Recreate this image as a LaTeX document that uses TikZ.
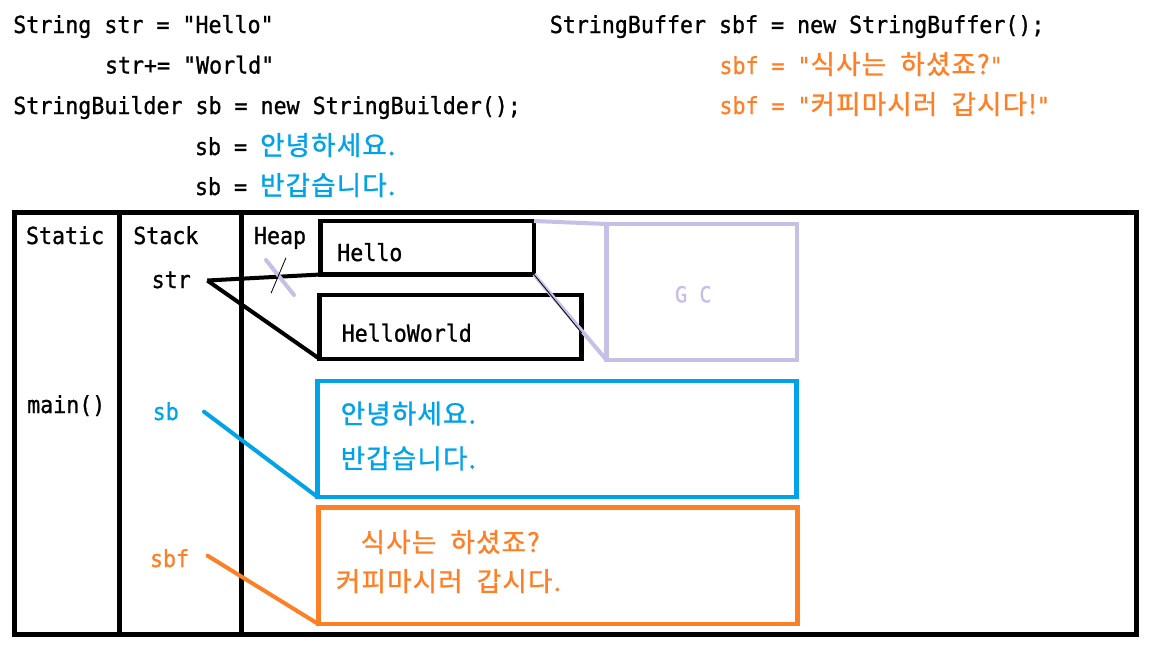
\documentclass[tikz,border=0pt]{standalone}
\usepackage{fontspec}
\newfontfamily\monof[FakeStretch=0.92,FakeBold=1,Ligatures=TeXOff]{DejaVu Sans Mono}
\newfontfamily\krf[WordSpace=2.0,FakeBold=1,LetterSpace=4.5]{Noto Sans CJK KR}
\newcommand\mfont{\monof\fontsize{23.5}{28}\selectfont}
\newcommand\K[1]{{\krf\fontsize{26.5}{30}\selectfont #1}}
\definecolor{pblue}{HTML}{00A2E8}
\definecolor{porange}{HTML}{FF7F27}
\definecolor{plav}{HTML}{C8BFE7}
\begin{document}
\begin{tikzpicture}[x=1pt,y=-1pt,
  txt/.style={inner sep=0pt, outer sep=0pt, anchor=base west, font=\mfont},
  membox/.style={draw, line width=4.5pt, inner sep=0pt, outer sep=0pt, anchor=north west, rectangle},
  link/.style={line width=4pt},
  thinlink/.style={line width=0.8pt},
  frameline/.style={line width=5pt}]
\useasboundingbox (0,0) rectangle (1152,648);
\fill[white] (0,0) rectangle (1152,648);

% code lines
\node[txt] (l1) at (13.3,33) {String str = "Hello"};
\node[txt] (l2) at (105,73.5) {str+= "World"};
\node[txt] (l3) at (13.3,114) {StringBuilder sb = new StringBuilder();};
\node[txt] (l4) at (195,155) {sb = \textcolor{pblue}{\K{안녕하세요.}}};
\node[txt] (l5) at (195,195) {sb = \textcolor{pblue}{\K{반갑습니다.}}};
\node[txt] (r1) at (549.8,33) {StringBuffer sbf = new StringBuffer();};
\node[txt, text=porange] (r2) at (719.5,74) {sbf = "\K{식사는 하셨죠?}"};
\node[txt, text=porange] (r3) at (719.5,114) {sbf = "\K{커피마시러 갑시다!}"};

% memory frame
\draw[frameline] (14.7,212.5) rectangle (1136.3,634.5);
\draw[frameline] (119.5,212.5) -- (119.5,634.5);
\draw[frameline] (241.7,212.5) -- (241.7,634.5);

% column labels
\node[txt] (static) at (26,244) {Static};
\node[txt] (stack) at (133.3,244) {Stack};
\node[txt] (heap) at (254,244) {Heap};
\node[txt] (main) at (27.2,413) {main()};
\node[txt] (strv) at (151.7,288) {str};
\node[txt, text=pblue] (sbv) at (152.7,420) {sb};
\node[txt, text=porange] (sbfv) at (150,567) {sbf};

% connector start points
\coordinate (strp) at (207.3,280.5);
\coordinate (sbp) at (204,411.7);
\coordinate (sbfp) at (207.6,555.7);
\coordinate (hwe) at (581.7,333);
\coordinate (c1) at (266,260);
\coordinate (c2) at (294,295);
\coordinate (c3) at (286,257.7);
\coordinate (c4) at (271,293.3);

% heap boxes
\node[membox, minimum width=213.5pt, minimum height=53.5pt] (hello) at (320.5,221) {};
\node[membox, minimum width=262.2pt, minimum height=63.8pt] (hw) at (319.5,295) {};
\node[membox, draw=plav, minimum width=190.5pt, minimum height=136pt] (gc) at (606.5,224) {};
\node[membox, draw=pblue, minimum width=479pt, minimum height=116pt] (blue) at (317.5,381) {};
\node[membox, draw=porange, minimum width=479.2pt, minimum height=116.5pt] (orange) at (318.3,507.5) {};

% connectors
\draw[link] (strp) -- (hello.south west);
\draw[link] (strp) -- (hw.south west);
\draw[link, pblue, line cap=round] (sbp) -- (blue.south west);
\draw[link, porange, line cap=round] (sbfp) -- (orange.south west);
\draw[link, plav] (hello.north east) -- (gc.north west);
\draw[link, plav] (hello.south east) -- (gc.south west);
\draw[thinlink] (hello.south east) -- (hwe);
\draw[link, plav, line cap=round] (c1) -- (c2);
\draw[thinlink] (c3) -- (c4);

% box texts
\node[txt] (hellot) at (337.3,261) {Hello};
\node[txt] (hwt) at (341.7,341.7) {HelloWorld};
\node[txt, text=plav, font=\monof\fontsize{22}{26}\selectfont] (gct) at (675,302.3) {G C};
\node[txt, text=pblue] (b1) at (340.7,423.5) {\K{안녕하세요.}};
\node[txt, text=pblue] (b2) at (340.7,468.3) {\K{반갑습니다.}};
\node[txt, text=porange] (o1) at (360.7,552) {\K{식사는 하셨죠?}};
\node[txt, text=porange] (o2) at (336,591) {\K{커피마시러 갑시다.}};
\end{tikzpicture}
\end{document}
